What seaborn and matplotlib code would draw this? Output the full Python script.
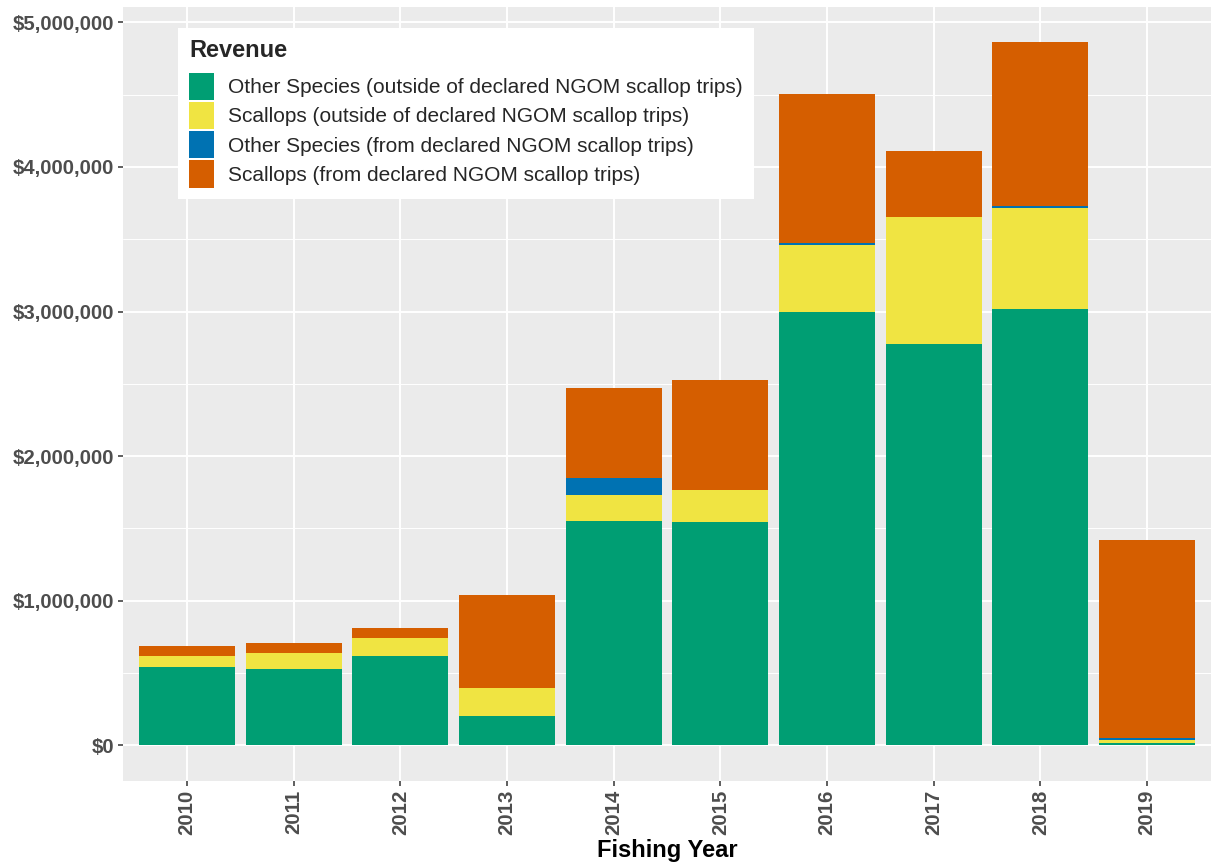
import numpy as np
import pandas as pd
import matplotlib
matplotlib.use("Agg")
import matplotlib.pyplot as plt
import matplotlib.ticker as mticker
from matplotlib.patches import Patch
import seaborn as sns

years = ['2010', '2011', '2012', '2013', '2014', '2015', '2016', '2017', '2018', '2019']
other_outside = [544000, 530000, 620000, 200000, 1553000, 1546000, 2997000, 2777000, 3018000, 20000]
scallop_outside = [76000, 111000, 124000, 199000, 180000, 221000, 463000, 877000, 698000, 17000]
other_declared = [0, 0, 0, 0, 117000, 0, 14000, 0, 16000, 16000]
scallop_declared = [69000, 69000, 69000, 642000, 621000, 761000, 1029000, 456000, 1131000, 1369000]

labels = ['Other Species (outside of declared NGOM scallop trips)',
          'Scallops (outside of declared NGOM scallop trips)',
          'Other Species (from declared NGOM scallop trips)',
          'Scallops (from declared NGOM scallop trips)']
colors = ['#009E73', '#F0E442', '#0072B2', '#D55E00']

df = pd.DataFrame({'year': years, 'a': other_outside, 'b': scallop_outside,
                   'c': other_declared, 'd': scallop_declared})
# cumulative tops so each layer can be drawn over the one above it
df['top_a'] = df['a']
df['top_b'] = df['top_a'] + df['b']
df['top_c'] = df['top_b'] + df['c']
df['top_d'] = df['top_c'] + df['d']

sns.set_theme(style='darkgrid')
plt.rcParams['font.family'] = ['Liberation Sans', 'DejaVu Sans']

fig = plt.figure(figsize=(12.11, 8.63), dpi=100)
ax = fig.add_axes([0.1016, 0.0955, 0.8984, 0.8965])
ax.set_facecolor('#EBEBEB')

for col, c in zip(['top_d', 'top_c', 'top_b', 'top_a'], colors[::-1]):
    sns.barplot(data=df, x='year', y=col, color=c, saturation=1, width=0.9,
                order=years, ax=ax, linewidth=0, errorbar=None)

ax.set_xlim(-0.6, 9.6)
ymax = df['top_d'].max()
ax.set_ylim(-0.05 * ymax, 1.05 * ymax)

ax.yaxis.set_major_locator(mticker.MultipleLocator(1000000))
ax.yaxis.set_minor_locator(mticker.MultipleLocator(500000))
ax.yaxis.set_major_formatter(mticker.FuncFormatter(lambda v, p: f'${v:,.0f}'))
ax.grid(which='major', color='white', linewidth=1.4)
ax.grid(which='minor', axis='y', color='white', linewidth=0.7)
ax.set_axisbelow(True)
for s in ax.spines.values():
    s.set_visible(False)

ax.tick_params(axis='both', which='major', length=3.5, width=1.1, color='#333333',
               labelsize=14.7, labelcolor='#4D4D4D', pad=3, left=True, bottom=True)
ax.tick_params(axis='y', which='minor', length=0)
for t in ax.get_xticklabels():
    t.set_rotation(90)
    t.set_fontweight('bold')
    t.set_va('top')
for t in ax.get_yticklabels():
    t.set_fontweight('bold')

ax.set_xlabel('Fishing Year', fontsize=17, fontweight='bold', color='black', labelpad=3)
ax.set_ylabel('')

handles = [Patch(facecolor=c, edgecolor='none', label=l) for c, l in zip(colors, labels)]
leg = ax.legend(handles=handles, title='Revenue', loc='upper left',
                bbox_to_anchor=(0.0505, 0.973), frameon=True, fancybox=False,
                facecolor='white', edgecolor='none', framealpha=1,
                fontsize=15, title_fontsize=17, alignment='left',
                handlelength=1.2, handleheight=1.63, handletextpad=0.65,
                labelspacing=0.1, borderpad=0.55, borderaxespad=0)
leg.get_title().set_fontweight('bold')
leg._legend_box.sep = 7.5  # a bit more room under the title

fig.savefig('out.png', dpi=100)
